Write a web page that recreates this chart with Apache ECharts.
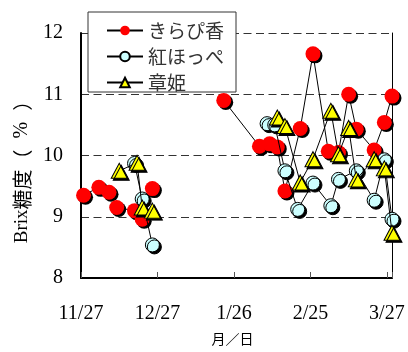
<!DOCTYPE html>
<html>
<head>
<meta charset="utf-8">
<script src="https://cdn.jsdelivr.net/npm/echarts@6/dist/echarts.min.js"></script>
<style>
  html, body { margin: 0; padding: 0; background: #fff; }
  #chart { width: 408px; height: 352px; }
</style>
</head>
<body>
<div id="chart"></div>
<script>
// Tick labels along the date axis (every 30 days from 11/27)
const tickLabels = ['11/27', '12/27', '1/26', '2/25', '3/27'];

// きらぴ香
const kirapikaDates = ['11/28', '12/4', '12/8', '12/11', '12/18', '12/21', '12/25',
  '1/22', '2/5', '2/9', '2/12', '2/15', '2/21', '2/26', '3/4', '3/8', '3/12', '3/15',
  '3/22', '3/26', '3/29'];
const kirapikaBrix = [9.35, 9.48, 9.40, 9.15, 9.10, 8.96, 9.46,
  10.90, 10.15, 10.19, 10.14, 9.42, 10.44, 11.66, 10.07, 10.05, 11.00, 10.43,
  10.09, 10.54, 10.97];

// 紅ほっぺ
const beniDates = ['12/18', '12/21', '12/25',
  '2/8', '2/11', '2/15', '2/20', '2/26', '3/5', '3/8', '3/15', '3/22', '3/26', '3/29'];
const beniBrix = [9.87, 9.29, 8.54,
  10.52, 10.50, 9.75, 9.12, 9.55, 9.18, 9.61, 9.75, 9.27, 9.93, 8.96];

// 章姫
const akihimeDates = ['12/12', '12/19', '12/21', '12/25',
  '2/12', '2/15', '2/21', '2/26', '3/5', '3/8', '3/12', '3/15', '3/22', '3/26', '3/29'];
const akihimeBrix = [9.75, 9.88, 9.15, 9.10,
  10.62, 10.48, 9.56, 9.94, 10.73, 10.02, 10.45, 9.61, 9.94, 9.79, 8.74];

// Days elapsed since 11/27 (season runs Nov -> Mar of the following year)
function dayOf(s) {
  const [m, d] = s.split('/').map(Number);
  const y = m >= 11 ? 2010 : 2011;
  return (Date.UTC(y, m - 1, d) - Date.UTC(2010, 10, 27)) / 864e5;
}

// Pair dates with values; a long pause between samplings breaks the line
function toPoints(dates, vals) {
  const out = [];
  let prev = null;
  dates.forEach((s, i) => {
    const x = dayOf(s);
    if (prev !== null && x - prev > 20) out.push([(x + prev) / 2, '-']);
    out.push([x, vals[i]]);
    prev = x;
  });
  return out;
}

const serif = '"Liberation Serif", "Noto Sans CJK JP", serif';
const cjk = '"Noto Sans CJK JP", sans-serif';
const shadow = { shadowColor: '#000', shadowBlur: 0, shadowOffsetX: 2, shadowOffsetY: 2 };

const chart = echarts.init(document.getElementById('chart'), null, { renderer: 'canvas' });
chart.setOption({
  animation: false,
  backgroundColor: '#fff',
  grid: { left: 81, right: 16, top: 33, bottom: 73 },
  legend: {
    orient: 'vertical',
    left: 88,
    top: 12,
    itemWidth: 36,
    itemHeight: 12,
    itemGap: 7,
    padding: [9, 12, 0, 18],
    backgroundColor: '#fff',
    borderColor: '#333',
    borderWidth: 1,
    itemStyle: { shadowColor: 'rgba(0,0,0,0)', shadowOffsetX: 0, shadowOffsetY: 0, shadowBlur: 0 },
    textStyle: { fontSize: 19, color: '#333', fontFamily: cjk, lineHeight: 18 },
    data: ['きらぴ香', '紅ほっぺ', '章姫']
  },
  xAxis: {
    type: 'value',
    min: 0,
    max: 122,
    interval: 30,
    name: '月／日',
    nameLocation: 'middle',
    nameGap: 55,
    nameTextStyle: { fontSize: 14, color: '#000', fontFamily: serif, padding: [0, 8, 0, 0] },
    axisLine: { lineStyle: { color: '#000', width: 2 } },
    axisTick: { inside: true, length: 6, lineStyle: { color: '#555', width: 1 } },
    axisLabel: {
      fontSize: 20, color: '#000', fontFamily: serif, margin: 26,
      formatter: v => (v % 30 === 0 ? tickLabels[v / 30] : '')
    },
    splitLine: { show: false }
  },
  yAxis: [{
    type: 'value',
    min: 8,
    max: 12,
    interval: 1,
    axisLine: { show: true, lineStyle: { color: '#000', width: 2 } },
    axisTick: { show: false },
    axisLabel: { fontSize: 20, color: '#000', fontFamily: serif, margin: 18 },
    splitLine: { lineStyle: { color: '#333', width: 1, type: [8, 4.5] } }
  }, {
    type: 'value',
    position: 'right',
    min: 8,
    max: 12,
    interval: 1,
    axisLine: { show: true, lineStyle: { color: '#000', width: 1 } },
    axisTick: { show: false },
    axisLabel: { show: false },
    splitLine: { show: false }
  }],
  graphic: [{
    type: 'text',
    x: 22,
    y: 167,
    rotation: Math.PI / 2,
    style: {
      text: '{a|Brix}{b|糖度（}{p|%}{b|）}',
      x: 0, y: 0,
      align: 'center',
      verticalAlign: 'middle',
      fill: '#000',
      rich: {
        a: { fontSize: 19, fontFamily: serif, fill: '#000' },
        b: { fontSize: 20, fontFamily: cjk, fill: '#000' },
        p: { fontSize: 20, fontFamily: serif, fill: '#000', padding: [0, 11, 0, 11] }
      }
    }
  }],
  series: [{
    name: 'きらぴ香',
    type: 'line',
    z: 2,
    data: toPoints(kirapikaDates, kirapikaBrix),
    symbol: 'circle',
    symbolSize: 15,
    lineStyle: { color: '#000', width: 1 },
    itemStyle: Object.assign({ color: '#ff0000', borderWidth: 0 }, shadow)
  }, {
    name: '紅ほっぺ',
    type: 'line',
    z: 3,
    data: toPoints(beniDates, beniBrix),
    symbol: 'circle',
    symbolSize: 14,
    lineStyle: { color: '#000', width: 1 },
    itemStyle: Object.assign({ color: '#ccffff', borderColor: '#000', borderWidth: 1 }, shadow)
  }, {
    name: '章姫',
    type: 'line',
    z: 4,
    data: toPoints(akihimeDates, akihimeBrix),
    symbol: 'triangle',
    symbolSize: [16, 15],
    lineStyle: { color: '#000', width: 1 },
    itemStyle: Object.assign({ color: '#ffff00', borderColor: '#000', borderWidth: 1 }, shadow)
  }]
});
</script>
</body>
</html>
